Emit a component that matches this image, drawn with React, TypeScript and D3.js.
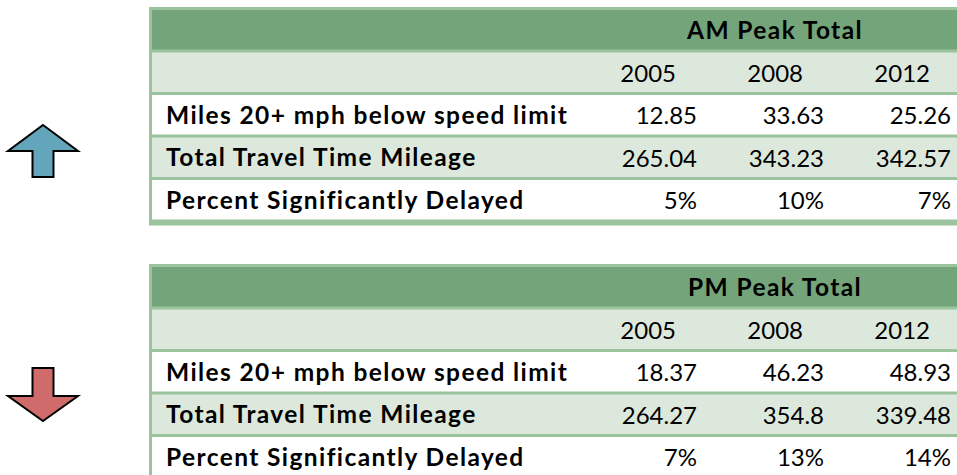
import * as d3 from 'd3';

const years = ['2005', '2008', '2012'];
const metrics = [
  'Miles 20+ mph below speed limit',
  'Total Travel Time Mileage',
  'Percent Significantly Delayed',
];
const amValues = [
  [12.85, 33.63, 25.26],
  [265.04, 343.23, 342.57],
  [0.05, 0.1, 0.07],
];
const pmValues = [
  [18.37, 46.23, 48.93],
  [264.27, 354.8, 339.48],
  [0.07, 0.13, 0.14],
];
const formats = [(d: number) => String(d), (d: number) => String(d), d3.format('.0%')];

const W = 957;
const H = 475;
const font = 'Lato, "Open Sans", sans-serif';
const darkGreen = '#74a479';
const lightGreen = '#dde8dd';
const border = '#9bc39d';

const col = d3.scaleBand<string>().domain(years).range([570, 951]);
const rowH = 42.5;

type TableProps = { top: number; title: string; values: number[][] };

const PeakTable = ({ top, title, values }: TableProps) => {
  const row = d3.scaleLinear().domain([0, 5]).range([top, top + 5 * rowH]);
  const fills = [darkGreen, lightGreen, '#ffffff', lightGreen, '#ffffff'];
  return (
    <g>
      <rect x={149} y={row(0) - 3} width={W - 149} height={row(5) - row(0) + 6} fill={border} />
      {fills.map((f, i) => (
        <rect key={i} x={152} y={row(i)} width={W - 152} height={rowH - 3} fill={f} />
      ))}
      <text
        x={775}
        y={row(0) + 28.5}
        textAnchor="middle"
        fontWeight="bold"
        fontSize={24.5}
        letterSpacing={1.4}
        fontFamily={font}
      >
        {title}
      </text>
      {years.map(y => (
        <text
          key={y}
          x={(col(y) ?? 0) + col.bandwidth() - 21}
          y={row(1) + 29}
          textAnchor="end"
          fontSize={24}
          fontFamily={font}
        >
          {y}
        </text>
      ))}
      {metrics.map((m, i) => (
        <g key={m}>
          <text
            x={166}
            y={row(i + 2) + 28.5}
            fontWeight="bold"
            fontSize={24.5}
            letterSpacing={1.4}
            fontFamily={font}
          >
            {m}
          </text>
          {years.map((y, j) => (
            <text
              key={y}
              x={(col(y) ?? 0) + col.bandwidth()}
              y={row(i + 2) + 29}
              textAnchor="end"
              fontSize={24}
              fontFamily={font}
            >
              {formats[i](values[i][j])}
            </text>
          ))}
        </g>
      ))}
    </g>
  );
};

const arrowPath = (cx: number, tipY: number, wingY: number, tailY: number) => {
  const p = d3.path();
  p.moveTo(cx, tipY);
  p.lineTo(cx + 35, wingY);
  p.lineTo(cx + 10.5, wingY);
  p.lineTo(cx + 10.5, tailY);
  p.lineTo(cx - 10.5, tailY);
  p.lineTo(cx - 10.5, wingY);
  p.lineTo(cx - 35, wingY);
  p.closePath();
  return p.toString();
};

export default function App() {
  return (
    <svg
      width={W}
      height={H}
      style={{ position: 'absolute', left: 0, top: 0, display: 'block', background: '#fff' }}
    >
      <PeakTable top={10} title="AM Peak Total" values={amValues} />
      <PeakTable top={267} title="PM Peak Total" values={pmValues} />
      <path d={arrowPath(43, 125, 151, 177)} fill="#63a6bb" stroke="#000" strokeWidth={2} />
      <path d={arrowPath(43, 421, 396, 368)} fill="#d06b6b" stroke="#000" strokeWidth={2} />
    </svg>
  );
}
